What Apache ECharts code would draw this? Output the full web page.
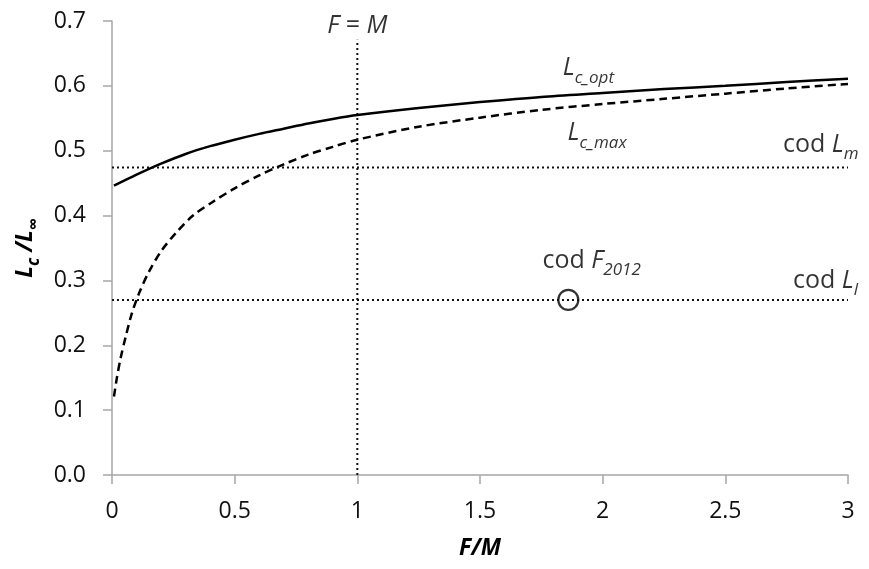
<!DOCTYPE html>
<html>
<head>
<meta charset="utf-8">
<script src="https://cdn.jsdelivr.net/npm/echarts@6/dist/echarts.min.js"></script>
<style>
html, body { margin: 0; padding: 0; background: #fff; }
#chart { width: 869px; height: 569px; }
</style>
</head>
<body>
<div id="chart"></div>
<script>
// Lc_opt 曲线 (实线)
var fmOpt = [0.008, 0.1, 0.2, 0.3, 0.4, 0.5, 0.6, 0.7, 0.8, 0.9, 1.0, 1.25, 1.5, 1.75, 2.0, 2.25, 2.5, 2.75, 3.0];
var lcOpt = [0.446, 0.463, 0.480, 0.495, 0.507, 0.517, 0.526, 0.534, 0.542, 0.549, 0.555, 0.566, 0.575, 0.583, 0.589, 0.595, 0.600, 0.606, 0.611];
// Lc_max 曲线 (虚线)
var fmMax = [0.008, 0.02, 0.035, 0.055, 0.08, 0.11, 0.15, 0.2, 0.26, 0.33, 0.41, 0.5, 0.6, 0.7, 0.8, 0.9, 1.0, 1.25, 1.5, 1.75, 2.0, 2.25, 2.5, 2.75, 3.0];
var lcMax = [0.121, 0.150, 0.180, 0.212, 0.248, 0.280, 0.313, 0.345, 0.373, 0.400, 0.421, 0.442, 0.462, 0.479, 0.494, 0.506, 0.517, 0.537, 0.551, 0.563, 0.572, 0.580, 0.588, 0.596, 0.603];
// 参考线
var codLm = 0.474;
var codLl = 0.27;
var fEqualsM = 1;
var fEqualsMTop = 0.671;
// cod F2012 点
var codF2012 = [1.86, 0.27];

var font = '"Open Sans", "Liberation Sans", sans-serif';
var black = '#000';
var dotted = { color: '#111', width: 2, type: [2, 3] };

function zip(xs, ys) {
	var out = [];
	for (var i = 0; i < xs.length; i++) out.push([xs[i], ys[i]]);
	return out;
}

//注释文字样式
var rich = {
	n: { fontFamily: font, fontSize: 25, color: black, lineHeight: 36, verticalAlign: 'middle' },
	i: { fontFamily: font, fontSize: 25, fontStyle: 'italic', color: black, lineHeight: 36, verticalAlign: 'middle' },
	s: { fontFamily: font, fontSize: 17, fontStyle: 'italic', color: black, lineHeight: 36, verticalAlign: 'bottom' }
};

function note(x, y, text, pos) {
	return {
		value: [x, y],
		label: { show: true, position: pos || 'right', distance: 0, formatter: text, rich: rich }
	};
}

var chart = echarts.init(document.getElementById('chart'), null, { renderer: 'canvas' });
var option = {
	animation: false,
	backgroundColor: '#fff',
	grid: { left: 112, right: 21, top: 21, bottom: 94 },
	xAxis: {
		type: 'value', min: 0, max: 3, interval: 0.5,
		name: '{b|F/M}', nameLocation: 'middle', nameGap: 62,
		nameTextStyle: { rich: { b: { fontFamily: font, fontSize: 23, fontWeight: 'bold', fontStyle: 'italic', color: black } } },
		axisLine: { lineStyle: { color: '#a6a6a6', width: 1.5 } },
		axisTick: { show: true, inside: false, length: 9, lineStyle: { color: '#a6a6a6', width: 1.5 } },
		axisLabel: { fontFamily: font, fontSize: 23, color: '#111', margin: 25 },
		splitLine: { show: false }
	},
	yAxis: {
		type: 'value', min: 0, max: 0.7, interval: 0.1,
		name: '{b|L}{bs|c}{b| /L}{bs|∞}', nameLocation: 'middle', nameGap: 66, nameRotate: 90,
		nameTextStyle: { rich: {
			b: { fontFamily: font, fontSize: 23, fontWeight: 'bold', fontStyle: 'italic', color: black, lineHeight: 34, verticalAlign: 'middle' },
			bs: { fontFamily: font, fontSize: 17, fontWeight: 'bold', fontStyle: 'italic', color: black, lineHeight: 34, verticalAlign: 'bottom' }
		} },
		axisLine: { show: true, lineStyle: { color: '#a6a6a6', width: 1.5 } },
		axisTick: { show: true, inside: false, length: 9, lineStyle: { color: '#a6a6a6', width: 1.5 } },
		axisLabel: { fontFamily: font, fontSize: 23, color: '#111', margin: 26, formatter: function (v) { return v.toFixed(1); } },
		splitLine: { show: false }
	},
	series: [{
		name: 'cod Lm', type: 'line', showSymbol: false, silent: true,
		data: [[0, codLm], [3, codLm]], lineStyle: dotted
	}, {
		name: 'cod Ll', type: 'line', showSymbol: false, silent: true,
		data: [[0, codLl], [3, codLl]], lineStyle: dotted
	}, {
		name: 'F = M', type: 'line', showSymbol: false, silent: true,
		data: [[fEqualsM, 0], [fEqualsM, fEqualsMTop]], lineStyle: dotted
	}, {
		name: 'Lc_opt', type: 'line', smooth: 0.3, showSymbol: false,
		data: zip(fmOpt, lcOpt), lineStyle: { color: black, width: 2.5 }
	}, {
		name: 'Lc_max', type: 'line', smooth: 0.3, showSymbol: false,
		data: zip(fmMax, lcMax), lineStyle: { color: black, width: 2.5, type: [8, 5] }
	}, {
		name: 'cod F2012', type: 'scatter', symbol: 'circle', symbolSize: 20,
		data: [codF2012],
		itemStyle: { color: 'rgba(0,0,0,0)', borderColor: black, borderWidth: 2.2 }
	}, {
		//文字注释
		name: 'notes', type: 'scatter', symbolSize: 0, silent: true,
		data: [
			note(1.0, 0.692, '{i|F}{n| = }{i|M}', 'inside'),
			note(1.837, 0.627, '{i|L}{s|c_opt}'),
			note(1.857, 0.527, '{i|L}{s|c_max}'),
			note(2.735, 0.509, '{n|cod }{i|L}{s|m}'),
			note(1.755, 0.330, '{n|cod }{i|F}{s|2012}'),
			note(2.776, 0.299, '{n|cod }{i|L}{s|l}')
		]
	}]
};
chart.setOption(option);
</script>
</body>
</html>
